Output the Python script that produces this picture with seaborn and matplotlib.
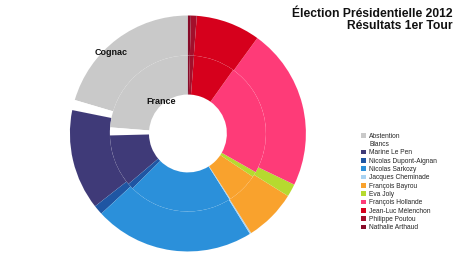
import matplotlib
matplotlib.use("Agg")
import matplotlib.pyplot as plt
from matplotlib.patches import Patch
import seaborn as sns

sns.set_theme(style="white")
plt.rcParams['font.family'] = ['Liberation Sans', 'DejaVu Sans']

candidates = ["Abstention", "Blancs", "Marine Le Pen", "Nicolas Dupont-Aignan",
              "Nicolas Sarkozy", "Jacques Cheminade", "François Bayrou", "Eva Joly",
              "François Hollande", "Jean-Luc Mélenchon", "Philippe Poutou", "Nathalie Arthaud"]
colors = ["#c9c9c9", "#ffffff", "#3f3a78", "#1f56a3", "#2b90da", "#a9d3f2",
          "#f9a22d", "#b6da2f", "#fe3b78", "#d6001c", "#a30f2b", "#870a27"]
# outer ring (Cognac) and inner ring (France), % share
cognac = [20.4, 1.4, 13.75, 1.3, 21.9, 0.2, 7.1, 1.75, 22.1, 8.8, 0.8, 0.4]
france = [23.75, 1.65, 10.8, 1.25, 21.5, 0.2, 6.5, 1.1, 23.4, 8.6, 0.85, 0.4]
ring_labels = ["Cognac", "France"]
title_lines = ["Élection Présidentielle 2012", "Résultats 1er Tour"]

fig = plt.figure(figsize=(4.6, 2.56), dpi=100)
ax = fig.add_axes([0.152, 0.0176, 0.513, 0.922])
wp = dict(linewidth=0.25, edgecolor=(1, 1, 1, 0.07))
ax.pie(cognac, radius=1.0, colors=colors, startangle=90, counterclock=True,
       wedgeprops=dict(width=0.339, **wp))
ax.pie(france, radius=0.661, colors=colors, startangle=90, counterclock=True,
       wedgeprops=dict(width=0.331, **wp))
ax.set_xlim(-1, 1)
ax.set_ylim(-1, 1)
ax.set_aspect('equal')
ax.axis('off')

ax.text(-0.65, 0.69, ring_labels[0], fontsize=6.5, fontweight='bold',
        ha='center', va='center', color='#111111')
ax.text(-0.23, 0.275, ring_labels[1], fontsize=6.5, fontweight='bold',
        ha='center', va='center', color='#111111')

fig.text(0.985, 0.932, title_lines[0], fontsize=8.7, fontweight='bold',
         ha='right', va='baseline', color='#111111')
fig.text(0.985, 0.887, title_lines[1], fontsize=8.7, fontweight='bold',
         ha='right', va='baseline', color='#111111')

handles = [Patch(facecolor=c, edgecolor='none') for c in colors]
fig.legend(handles, candidates, loc='upper left', bbox_to_anchor=(0.785, 0.482),
           frameon=False, fontsize=4.8, handlelength=0.7, handleheight=0.7,
           handletextpad=0.5, labelspacing=0.2, borderaxespad=0, borderpad=0)

fig.savefig("out.png", dpi=100, facecolor='white')
